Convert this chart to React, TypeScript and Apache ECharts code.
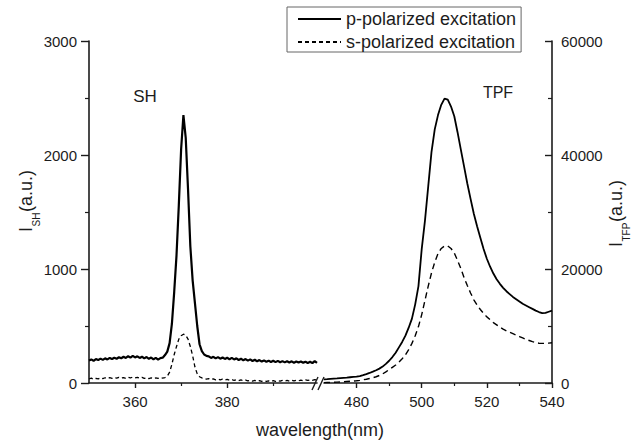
import React, { useEffect, useRef } from "react";
import * as echarts from "echarts";

// SH region: wavelengths 350 .. 399.5 nm, 0.5 nm step
const shStart = 350;
const shStep = 0.5;
const shP = [
  198, 207, 194, 210, 201, 214, 203, 216, 207, 220,
  210, 222, 213, 226, 217, 230, 220, 235, 223, 238,
  224, 234, 220, 231, 216, 228, 212, 223, 208, 220,
  205, 218, 222,
  245, 275, 350, 520, 800, 1120, 1560, 2050, 2350, 2150,
  1700, 1200, 900, 700, 500, 340, 280, 250, 238,
  234, 220, 230, 216, 227, 213, 224, 211, 222, 208,
  220, 207, 216, 202, 213, 199, 210, 196, 207, 193,
  204, 190, 201, 188, 198, 186, 196, 184, 195, 183,
  194, 182, 192, 181, 191, 180, 190, 178, 189, 179,
  188, 177, 187, 176, 186, 174, 192, 176,
];
const shS = [
  35, 42, 33, 40, 36, 45, 38, 46, 39, 47,
  41, 49, 42, 50, 43, 48, 41, 50, 44, 52,
  45, 50, 42, 49, 40, 47, 39, 45, 38, 44,
  40, 46, 43,
  48, 60, 95, 165, 250, 320, 385, 415, 428, 420,
  385, 320, 240, 140, 80, 55, 45, 40,
  34, 38, 30, 36, 28, 34, 27, 33, 25, 31,
  24, 30, 22, 28, 20, 27, 19, 25, 18, 24,
  17, 22, 16, 21, 14, 20, 15, 19, 13, 20,
  14, 21, 16, 22, 15, 23, 17, 24, 18, 25,
  19, 26, 20, 27, 22, 28, 24, 30, 26,
];

// TPF region: wavelengths 470 .. 540 nm, 1 nm step
const tpfStart = 470;
const tpfStep = 1;
const tpfP = [
  650, 680, 720, 760, 800, 850, 900, 950, 1010, 1060,
  1110, 1220, 1380, 1560, 1760, 1990, 2230, 2520, 2880, 3350,
  3900, 4550, 5300, 6250, 7200, 8300, 9700, 11300, 13800, 17000,
  23500, 28500, 34500, 40500, 44500, 47000, 48800, 49900, 49700, 48500,
  46800, 44000, 41000, 38000, 35000, 32300, 29700, 27500, 25500, 23500,
  21800, 20400, 19200, 18200, 17400, 16700, 16100, 15600, 15100, 14700,
  14300, 13900, 13600, 13300, 13000, 12700, 12450, 12250, 12300, 12500,
  12700,
];
const tpfS = [
  60, 80, 100, 120, 150, 180, 220, 260, 300, 350,
  400, 470, 560, 660, 780, 930, 1100, 1320, 1600, 1950,
  2350, 2750, 3150, 3650, 4250, 4950, 5850, 6950, 8300, 9900,
  12000, 14500, 17000, 19300, 21200, 22700, 23600, 24050, 24050, 23600,
  22800, 21500, 20100, 18500, 17100, 15800, 14600, 13700, 12900, 12200,
  11600, 11100, 10600, 10200, 9800, 9450, 9150, 8900, 8650, 8400,
  8150, 7900, 7650, 7450, 7250, 7100, 6980, 6950, 6960, 7000,
  7070,
];

const shMajorTicks = [360, 380];
const shMinorTicks = [370, 390];
const tpfMajorTicks = [480, 500, 520, 540];
const tpfMinorTicks = [490, 510, 530];

const legendP = "p-polarized excitation";
const legendS = "s-polarized excitation";

const FONT = "Liberation Sans, Arial, sans-serif";
const INK = "#1c1c1c";

function pairs(start: number, step: number, vals: number[]) {
  return vals.map((v, i) => [start + i * step, v]);
}

export default function App() {
  const ref = useRef<HTMLDivElement>(null);
  useEffect(() => {
    if (!ref.current) return;
    const chart = echarts.init(ref.current, undefined, { renderer: "svg" });
    const axisLine = { show: true, lineStyle: { color: INK, width: 1.6 } };
    const label = { color: INK, fontSize: 15, fontFamily: FONT, formatter: (v: number) => String(v) };
    const g0 = { left: 89, right: 320, top: 41, bottom: 57 };
    const g1 = { left: 324, right: 85, top: 41, bottom: 57 };
    chart.setOption({
      animation: false,
      backgroundColor: "#ffffff",
      grid: [g0, g1],
      legend: {
        left: 287,
        top: 7,
        orient: "vertical",
        borderColor: "#666",
        borderWidth: 1,
        padding: [3, 5, 1, 10],
        itemGap: 5,
        itemWidth: 43,
        itemHeight: 14,
        itemStyle: { opacity: 0 },
        data: [legendP, legendS],
        textStyle: { color: INK, fontSize: 18, fontFamily: FONT },
      },
      xAxis: [
        {
          gridIndex: 0, type: "value", min: 350, max: 399.5, position: "bottom",
          axisLine, splitLine: { show: false },
          axisTick: { show: true, customValues: shMajorTicks, length: 5, lineStyle: { color: INK, width: 1.4 } },
          axisLabel: { ...label, customValues: shMajorTicks, margin: 11 },
        },
        {
          gridIndex: 1, type: "value", min: 470, max: 540, position: "bottom",
          axisLine, splitLine: { show: false },
          axisTick: { show: true, customValues: tpfMajorTicks, length: 5, lineStyle: { color: INK, width: 1.4 } },
          axisLabel: { ...label, customValues: tpfMajorTicks, margin: 11 },
        },
        {
          gridIndex: 0, type: "value", min: 350, max: 399.5, position: "bottom",
          axisLine: { show: false }, splitLine: { show: false },
          axisTick: { show: true, customValues: shMinorTicks, length: 3, lineStyle: { color: INK, width: 1.2 } },
          axisLabel: { show: false },
        },
        {
          gridIndex: 1, type: "value", min: 470, max: 540, position: "bottom",
          axisLine: { show: false }, splitLine: { show: false },
          axisTick: { show: true, customValues: tpfMinorTicks, length: 3, lineStyle: { color: INK, width: 1.2 } },
          axisLabel: { show: false },
        },
      ],
      yAxis: [
        {
          gridIndex: 0, type: "value", position: "left", min: 0, max: 3000, interval: 1000,
          axisLine, splitLine: { show: false },
          axisTick: { show: true, length: 8, lineStyle: { color: INK, width: 1.4 } },
          minorTick: { show: true, splitNumber: 2, length: 4, lineStyle: { color: INK, width: 1.2 } },
          axisLabel: { ...label, margin: 12 },
        },
        {
          gridIndex: 1, type: "value", position: "right", min: 0, max: 60000, interval: 20000,
          axisLine, splitLine: { show: false },
          axisTick: { show: true, inside: true, length: 7, lineStyle: { color: INK, width: 1.4 } },
          minorTick: { show: true, splitNumber: 2, length: 4, lineStyle: { color: INK, width: 1.2 } },
          axisLabel: { ...label, margin: 9 },
        },
      ],
      series: [
        {
          name: legendP, type: "line", xAxisIndex: 0, yAxisIndex: 0, symbol: "none",
          data: pairs(shStart, shStep, shP),
          lineStyle: { color: "#000", width: 2.2 }, itemStyle: { color: "#000" },
        },
        {
          name: legendS, type: "line", xAxisIndex: 0, yAxisIndex: 0, symbol: "none",
          data: pairs(shStart, shStep, shS),
          lineStyle: { color: "#000", width: 1.3, type: [4, 3] }, itemStyle: { color: "#000" },
        },
        {
          name: legendP, type: "line", xAxisIndex: 1, yAxisIndex: 1, symbol: "none",
          data: pairs(tpfStart, tpfStep, tpfP),
          lineStyle: { color: "#000", width: 1.8 }, itemStyle: { color: "#000" },
        },
        {
          name: legendS, type: "line", xAxisIndex: 1, yAxisIndex: 1, symbol: "none",
          data: pairs(tpfStart, tpfStep, tpfS),
          lineStyle: { color: "#000", width: 1.4, type: [6, 4] }, itemStyle: { color: "#000" },
        },
      ],
      graphic: [
        { type: "text", x: 145, y: 96, style: { text: "SH", fontSize: 17, fontFamily: FONT, fill: INK, align: "center", verticalAlign: "middle" } },
        { type: "text", x: 498, y: 92, style: { text: "TPF", fontSize: 16, fontFamily: FONT, fill: INK, align: "center", verticalAlign: "middle" } },
        { type: "text", x: 320, y: 430, style: { text: "wavelength(nm)", fontSize: 18, fontFamily: FONT, fill: INK, align: "center", verticalAlign: "middle" } },
        { type: "line", shape: { x1: 312, y1: 390, x2: 318, y2: 377 }, style: { stroke: INK, lineWidth: 1.4 } },
        { type: "line", shape: { x1: 318, y1: 390, x2: 324, y2: 377 }, style: { stroke: INK, lineWidth: 1.4 } },
        {
          type: "group", x: 35, y: 232, rotation: Math.PI / 2,
          children: [
            { type: "text", x: 0, y: 0, style: { text: "I", fontSize: 18, fontFamily: FONT, fill: INK, align: "left", verticalAlign: "bottom" } },
            { type: "text", x: 5.5, y: 6, style: { text: "SH", fontSize: 10, fontFamily: FONT, fill: INK, align: "left", verticalAlign: "bottom" } },
            { type: "text", x: 20, y: 0, style: { text: "(a.u.)", fontSize: 18, fontFamily: FONT, fill: INK, align: "left", verticalAlign: "bottom" } },
          ],
        },
        {
          type: "group", x: 625, y: 247, rotation: Math.PI / 2,
          children: [
            { type: "text", x: 0, y: 0, style: { text: "I", fontSize: 18, fontFamily: FONT, fill: INK, align: "left", verticalAlign: "bottom" } },
            { type: "text", x: 5.5, y: 6, style: { text: "TFP", fontSize: 10, fontFamily: FONT, fill: INK, align: "left", verticalAlign: "bottom" } },
            { type: "text", x: 25, y: 0, style: { text: "(a.u.)", fontSize: 18, fontFamily: FONT, fill: INK, align: "left", verticalAlign: "bottom" } },
          ],
        },
      ],
    });
    return () => chart.dispose();
  }, []);
  return <div ref={ref} style={{ position: "fixed", left: 0, top: 0, width: 637, height: 440 }} />;
}
